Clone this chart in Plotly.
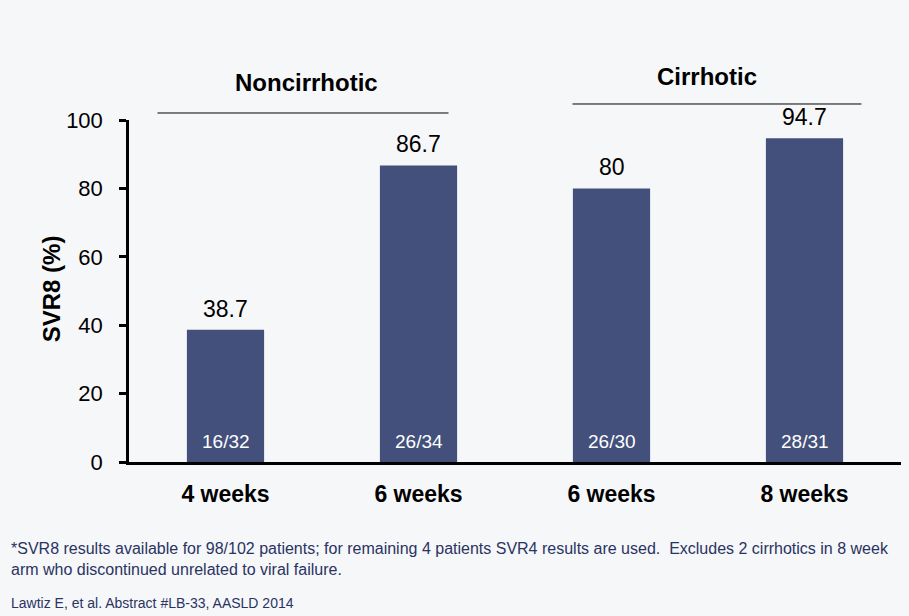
import plotly.graph_objects as go

categories = ["4 weeks", "6 weeks", "6 weeks ", "8 weeks"]
svr8 = [38.7, 86.7, 80, 94.7]
value_labels = ["38.7", "86.7", "80", "94.7"]
patient_labels = ["16/32", "26/34", "26/30", "28/31"]
group_names = ["Noncirrhotic", "Cirrhotic"]
y_ticks = [0, 20, 40, 60, 80, 100]
footnote = ("*SVR8 results available for 98/102 patients; for remaining 4 patients SVR4 results are used.  "
            "Excludes 2 cirrhotics in 8 week<br>arm who discontinued unrelated to viral failure.")
citation = "Lawtiz E, et al. Abstract #LB-33, AASLD 2014"

BAR = "#42507b"
FONT = "Liberation Sans, Arial, sans-serif"

fig = go.Figure()
fig.add_trace(go.Bar(x=categories, y=svr8, marker=dict(color=BAR, line=dict(width=0)),
                     width=0.4, hoverinfo="skip", cliponaxis=False))

ann = []
for c, v, t in zip(categories, svr8, value_labels):
    ann.append(dict(x=c, y=v, text=t, showarrow=False, yanchor="bottom", yshift=6,
                    font=dict(size=23, color="#000000", family=FONT)))
for c, t in zip(categories, patient_labels):
    ann.append(dict(x=c, y=0, text=t, showarrow=False, yanchor="bottom", yshift=8,
                    font=dict(size=19, color="#ffffff", family=FONT)))

ann.append(dict(xref="paper", yref="paper", x=0.2299, y=1.111, xanchor="center", yanchor="middle",
                text="<b>" + group_names[0] + "</b>",
                showarrow=False, font=dict(size=24, color="#000000", family=FONT)))
ann.append(dict(xref="paper", yref="paper", x=0.749, y=1.126, xanchor="center", yanchor="middle",
                text="<b>" + group_names[1] + "</b>",
                showarrow=False, font=dict(size=24, color="#000000", family=FONT)))
ann.append(dict(xref="paper", yref="paper", x=-0.101, y=0.505, xanchor="center", yanchor="middle",
                text="<b>SVR8 (%)</b>", textangle=-90,
                showarrow=False, font=dict(size=24, color="#000000", family=FONT)))
ann.append(dict(xref="paper", yref="paper", x=-0.155, y=-0.2836, xanchor="left", yanchor="middle",
                text=footnote, showarrow=False, align="left",
                font=dict(size=16, color="#2a3362", family=FONT)))
ann.append(dict(xref="paper", yref="paper", x=-0.155, y=-0.412, xanchor="left", yanchor="middle",
                text=citation, showarrow=False, align="left",
                font=dict(size=14, color="#2a3362", family=FONT)))

shapes = [
    dict(type="line", xref="paper", yref="paper", x0=0.0369, x1=0.4139, y0=1.0205, y1=1.0205,
         line=dict(color="#000000", width=1)),
    dict(type="line", xref="paper", yref="paper", x0=0.5745, x1=0.9488, y0=1.0468, y1=1.0468,
         line=dict(color="#000000", width=1)),
]
for s in shapes:
    fig.add_shape(**s)

fig.update_layout(
    width=909, height=616,
    margin=dict(l=129, r=8, t=120, b=154),
    paper_bgcolor="#f6f7f9", plot_bgcolor="rgba(0,0,0,0)",
    showlegend=False, annotations=ann, bargap=0.6,
    font=dict(family=FONT, color="#000000"),
)
fig.update_xaxes(range=[-0.5, 3.5], showline=True, linecolor="#000000", linewidth=2.5,
                 ticks="", showgrid=False, zeroline=False,
                 tickfont=dict(size=23, family=FONT, color="#000000"),
                 tickvals=categories, ticktext=["<b>" + c.strip() + "</b>" for c in categories],
                 ticklabelstandoff=10)
fig.update_yaxes(range=[0, 100], tickvals=y_ticks, showline=True, linecolor="#000000", linewidth=2.5,
                 ticks="outside", ticklen=7, tickwidth=2.5, tickcolor="#000000",
                 showgrid=False, zeroline=False, ticklabelstandoff=12,
                 tickfont=dict(size=22, family=FONT, color="#000000"))

fig.write_html("out.html", post_script="document.body.style.margin='0';",
               config={"displayModeBar": False})
